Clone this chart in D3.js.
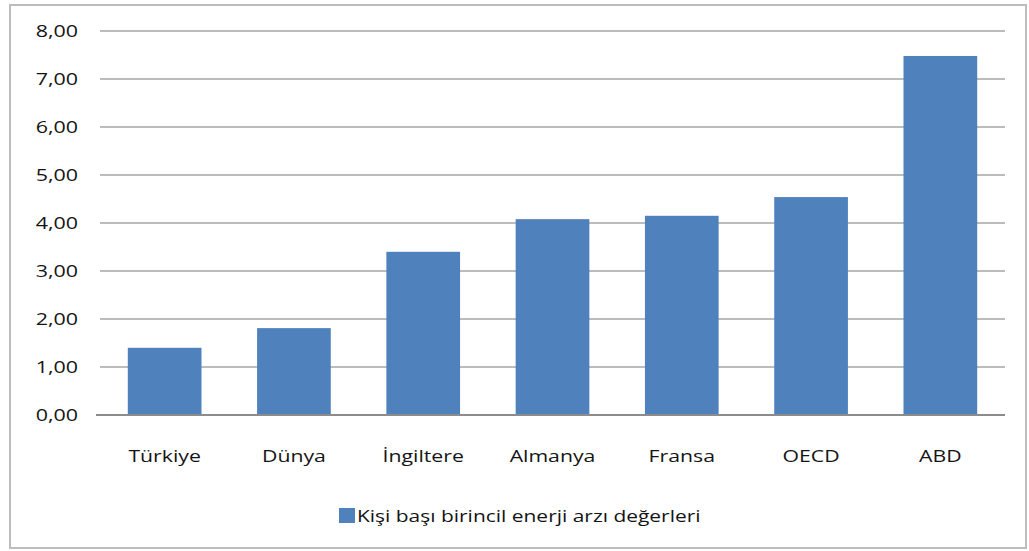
<!DOCTYPE html>
<html><head><meta charset="utf-8">
<script src="https://cdn.jsdelivr.net/npm/d3@7"></script>
<style>body{margin:0;background:#fff}svg{display:block}</style>
</head><body>
<svg id="c" width="1029" height="551"></svg>
<script>
const categories = ["Türkiye","Dünya","İngiltere","Almanya","Fransa","OECD","ABD"];
const values = [1.40, 1.81, 3.40, 4.08, 4.15, 4.54, 7.48];
const yTicks = [0,1,2,3,4,5,6,7,8];
const seriesName = "Kişi başı birincil enerji arzı değerleri";

const svg = d3.select("#c");
const font = "'Open Sans', sans-serif";
const txtColor = "#141414";

svg.append("rect").attr("x",10).attr("y",5).attr("width",1016).attr("height",543)
  .attr("fill","#fff").attr("stroke","#bdbdbd").attr("stroke-width",2);

const x = d3.scaleBand().domain(categories).range([100,1005]).paddingInner(0.43).paddingOuter(0.215);
const y = d3.scaleLinear().domain([0,8]).range([415,31]);

// gridlines
svg.append("g").selectAll("line").data(yTicks.filter(d=>d>0)).join("line")
  .attr("x1",100).attr("x2",1005).attr("y1",d=>y(d)).attr("y2",d=>y(d))
  .attr("stroke","#a6a6a6").attr("stroke-width",1.5);

// y labels
svg.append("g").selectAll("text").data(yTicks).join("text")
  .attr("transform",d=>`translate(78,${y(d)}) scale(1.3,1)`)
  .attr("text-anchor","end").attr("dy","0.35em")
  .attr("font-family",font).attr("font-size",16.5).attr("fill",txtColor)
  .text(d=>d3.format(".2f")(d).replace(".",","));

// bars
svg.append("g").selectAll("rect").data(values).join("rect")
  .attr("x",(d,i)=>x(categories[i])).attr("width",x.bandwidth())
  .attr("y",d=>y(d)).attr("height",d=>y(0)-y(d))
  .attr("fill","#4f81bd");

// baseline axis
svg.append("line").attr("x1",96).attr("x2",1005).attr("y1",y(0)).attr("y2",y(0))
  .attr("stroke","#8c8c8c").attr("stroke-width",2);

// category labels
svg.append("g").selectAll("text").data(categories).join("text")
  .attr("transform",d=>`translate(${x(d)+x.bandwidth()/2},462) scale(1.25,1)`)
  .attr("text-anchor","middle")
  .attr("font-family",font).attr("font-size",17).attr("fill",txtColor)
  .text(d=>d);

// legend
svg.append("rect").attr("x",339).attr("y",508).attr("width",16).attr("height",15).attr("fill","#4f81bd");
svg.append("text").attr("transform",`translate(357,522) scale(1.27,1)`)
  .attr("font-family",font).attr("font-size",16.5).attr("fill",txtColor).text(seriesName);
</script>
</body></html>
